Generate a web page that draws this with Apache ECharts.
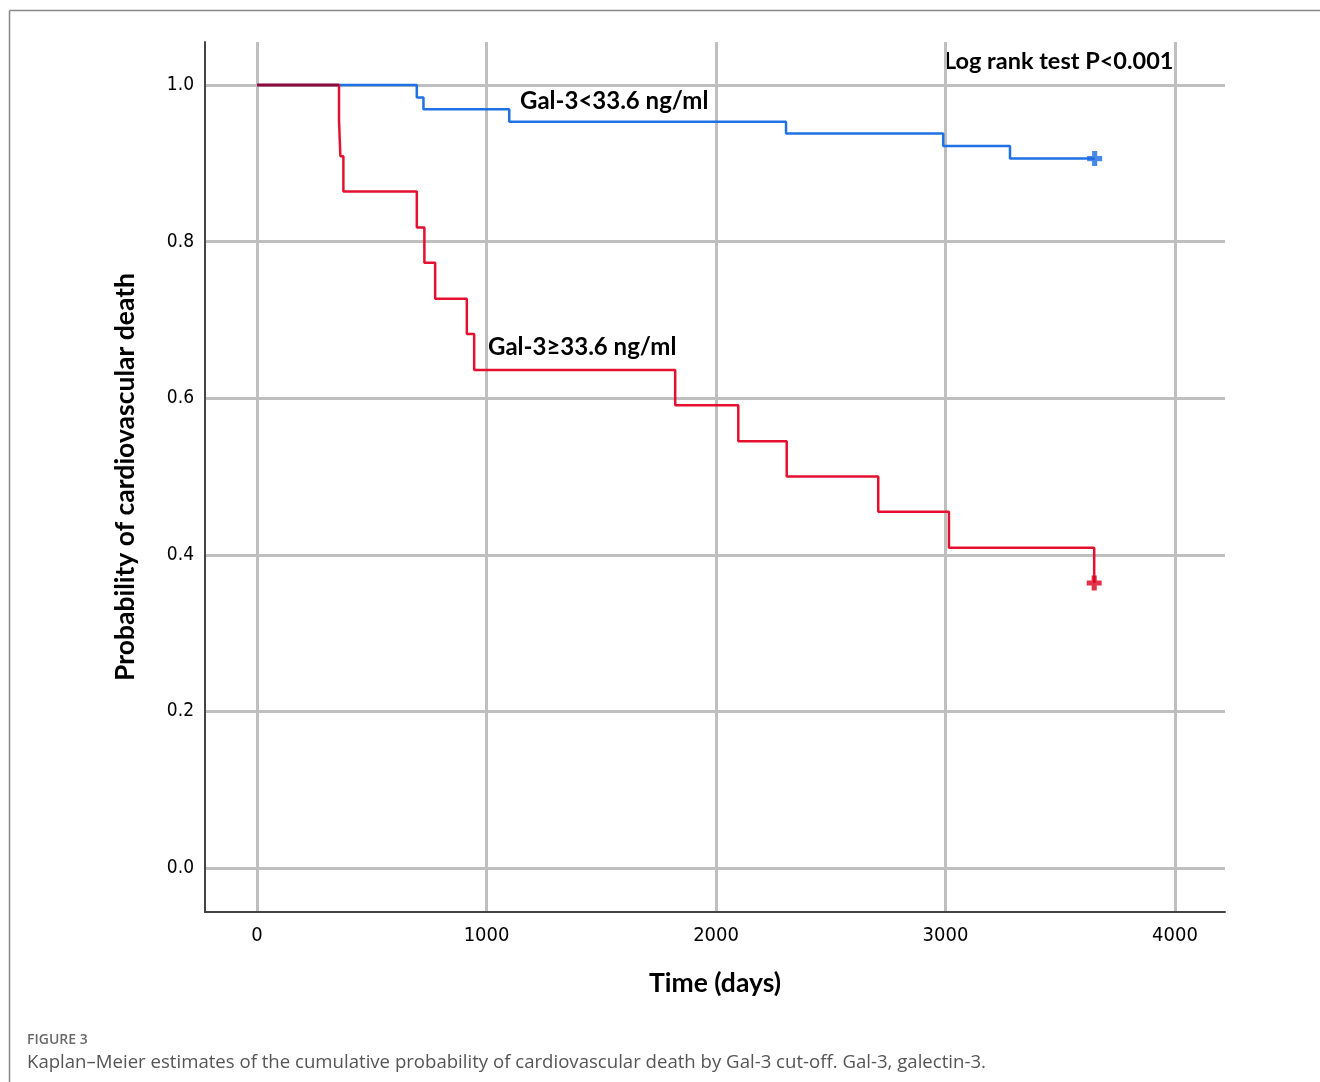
<!DOCTYPE html>
<html>
<head>
<meta charset="utf-8">
<script src="https://cdn.jsdelivr.net/npm/echarts@6/dist/echarts.min.js"></script>
<style>
  html, body { margin: 0; padding: 0; background: #fff; }
  #chart { width: 1320px; height: 1082px; }
</style>
</head>
<body>
<div id="chart"></div>
<script>
// Kaplan-Meier curves (time in days, survival probability)
const lowTimes = [0, 696, 725, 1099, 2305, 2990, 3281, 3650]
const lowSurv = [1, 0.984, 0.969, 0.953, 0.938, 0.922, 0.906, 0.906]
const highTimes = [0, 357, 363, 376, 696, 729, 776, 914, 946, 1822, 2097, 2308, 2707, 3015, 3648]
const highSurv = [1, 0.955, 0.909, 0.864, 0.818, 0.773, 0.727, 0.682, 0.636, 0.591, 0.545, 0.5, 0.455, 0.409, 0.364]

// censored observations (+ marks)
const lowCensorTimes = [3650]
const lowCensorSurv = [0.906]
const highCensorTimes = [3648]
const highCensorSurv = [0.364]

const xTicks = [0, 1000, 2000, 3000, 4000]
const yTicks = [0, 0.2, 0.4, 0.6, 0.8, 1.0]

const zip = (a, b) => a.map((v, i) => [v, b[i]])

// both curves sit at 1.0 until the first event in the high group -> drawn as a dark overlap
const overlapData = [[highTimes[0], highSurv[0]], [highTimes[1], highSurv[0]]]

const plusPath = 'path://M3.3,0H6.7V3.3H10V6.7H6.7V10H3.3V6.7H0V3.3H3.3Z'
const labelFont = '"DejaVu Sans Condensed", "DejaVu Sans", sans-serif'
const boldFont = 'Lato, "Open Sans", sans-serif'

const chart = echarts.init(document.getElementById('chart'))

chart.setOption({
  animation: false,
  grid: { left: 205, right: 95, top: 42, bottom: 170 },
  xAxis: {
    type: 'value',
    min: -227,
    max: 4218,
    name: 'Time (days)',
    nameLocation: 'middle',
    nameGap: 58,
    nameTextStyle: { fontFamily: boldFont, fontWeight: 'bold', fontSize: 26.5, color: '#000' },
    axisLine: { show: true, onZero: false, lineStyle: { color: '#444', width: 2 } },
    axisTick: { show: false, customValues: xTicks },
    axisLabel: {
      customValues: xTicks,
      formatter: v => String(v),
      fontFamily: labelFont, fontSize: 20, color: '#000', margin: 14
    },
    splitLine: { show: true, lineStyle: { color: '#bfbfbf', width: 3 } }
  },
  yAxis: {
    type: 'value',
    min: -0.0562,
    max: 1.0549,
    name: 'Probability of cardiovascular death',
    nameLocation: 'middle',
    nameGap: 66,
    nameTextStyle: { fontFamily: boldFont, fontWeight: 'bold', fontSize: 26.5, color: '#000' },
    axisLine: { show: true, onZero: false, lineStyle: { color: '#444', width: 2 } },
    axisTick: { show: false, customValues: yTicks },
    axisLabel: {
      customValues: yTicks,
      formatter: v => v.toFixed(1),
      fontFamily: labelFont, fontSize: 19, color: '#000', margin: 11
    },
    splitLine: { show: true, lineStyle: { color: '#bfbfbf', width: 3 } }
  },
  series: [
    {
      name: 'Gal-3<33.6 ng/ml',
      type: 'line',
      step: 'end',
      data: zip(lowTimes, lowSurv),
      symbol: 'none',
      lineStyle: { color: '#1f72e3', width: 2.5 },
      z: 2
    },
    {
      name: 'Gal-3≥33.6 ng/ml',
      type: 'line',
      step: 'end',
      data: zip(highTimes, highSurv),
      symbol: 'none',
      lineStyle: { color: '#e5102f', width: 2.5 },
      z: 3
    },
    {
      name: 'overlap',
      type: 'line',
      data: overlapData,
      symbol: 'none',
      lineStyle: { color: '#8c0b3b', width: 2.5 },
      z: 4
    },
    {
      type: 'scatter',
      data: zip(lowCensorTimes, lowCensorSurv),
      symbol: plusPath,
      symbolSize: 15,
      itemStyle: { color: '#1a6ae0' },
      z: 5
    },
    {
      type: 'scatter',
      data: zip(highCensorTimes, highCensorSurv),
      symbol: plusPath,
      symbolSize: 15,
      itemStyle: { color: '#d8001c' },
      z: 5
    }
  ],
  graphic: [
    // outer frame (left and top edges)
    { type: 'line', shape: { x1: 9.5, y1: 10.5, x2: 1320, y2: 10.5 }, style: { stroke: '#888', lineWidth: 1.5 } },
    { type: 'line', shape: { x1: 9.5, y1: 10.5, x2: 9.5, y2: 1082 }, style: { stroke: '#888', lineWidth: 1.5 } },
    {
      type: 'text', left: 944, top: 49,
      style: { text: 'Log rank test P<0.001', font: 'bold 23.5px ' + boldFont, fill: '#000' }
    },
    {
      type: 'text', left: 520, top: 89,
      style: { text: 'Gal-3<33.6 ng/ml', font: 'bold 24px ' + boldFont, fill: '#000' }
    },
    {
      type: 'text', left: 488, top: 335,
      style: { text: 'Gal-3≥33.6 ng/ml', font: 'bold 24px ' + boldFont, fill: '#000' }
    },
    {
      type: 'text', left: 27, top: 1033,
      style: { text: 'FIGURE 3', font: '600 14px "Open Sans", sans-serif', fill: '#6a6a6a' }
    },
    {
      type: 'text', left: 27, top: 1053,
      style: {
        text: 'Kaplan\u2013Meier estimates of the cumulative probability of cardiovascular death by Gal-3 cut-off. Gal-3, galectin-3.',
        font: '18.6px "Open Sans", sans-serif', fill: '#555'
      }
    }
  ]
})
</script>
</body>
</html>
